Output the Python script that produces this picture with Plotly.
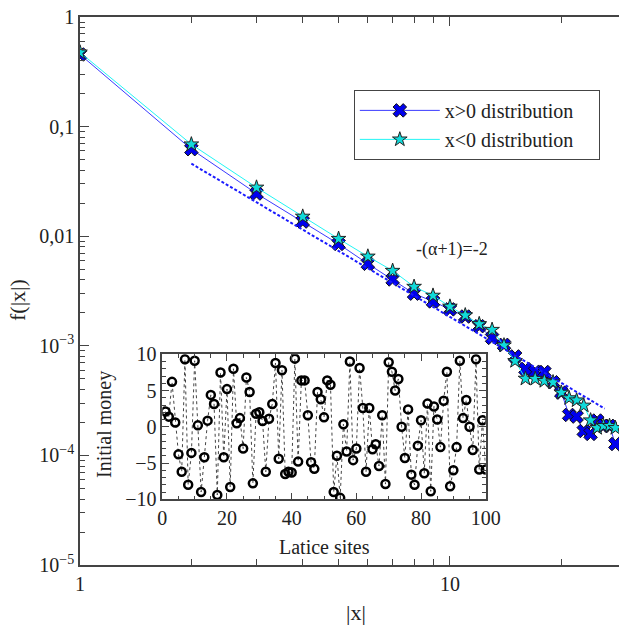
import plotly.graph_objects as go

# |x| values (lattice distance) and the two tail distributions
x_abs = list(range(1, 29))
f_pos = [0.455, 0.0622, 0.0245, 0.0136, 0.0085, 0.0056, 0.00403, 0.00299, 0.00254, 0.00215,
         0.00185, 0.00151, 0.00118, 0.00102, 0.00080, 0.000615, 0.000580, 0.000577, 0.000465,
         0.000374, 0.000234, 0.000226, 0.000167, 0.000157, 0.000208, 0.000186, 0.000186, 0.000127]
f_neg = [0.475, 0.0689, 0.0278, 0.0151, 0.00947, 0.00653, 0.00484, 0.00346, 0.00287, 0.00228,
         0.00190, 0.00158, 0.00140, 0.00101, 0.000727, 0.000502, 0.000500, 0.000478, 0.000465,
         0.000374, 0.000333, 0.000318, 0.000285, 0.000209, 0.000178, 0.000186, 0.000186, 0.000178]

# power-law guide with exponent -(alpha+1) = -2
guide_x = [2, 26.2]
guide_amp = 0.1836
guide_exp = -2

# initial money per lattice site (inset)
sites = list(range(1, 101))
money = [2.1, 1.4, 6.2, 0.6, -3.8, -6.2, 9.3, -8.0, -3.6, 9.1,
         0.2, -9.0, -4.2, 0.85, 4.4, 3.15, -9.4, 7.5, -4.2, 5.2,
         -8.3, 8.0, 0.5, 1.2, -3.0, 6.8, 4.8, -7.8, 1.8, 2.0,
         0.8, -6.2, 1.1, 3.15, 8.8, -4.4, 7.8, -6.5, -6.2, -6.3,
         9.4, -4.8, 6.4, 6.4, 1.6, -4.9, -5.8, 4.8, 3.8, 1.3,
         6.4, 5.8, -9.0, -4.0, -9.8, 0.35, -3.4, 9.0, -4.6, -3.0,
         8.1, 2.6, -6.2, 2.6, -3.1, -2.4, -5.4, 1.6, -7.9, 8.9,
         7.6, 5.0, 6.6, 0.0, -4.3, 2.4, -6.6, -8.0, -2.6, 0.9,
         -6.4, 3.2, -8.9, 2.8, 1.0, -2.8, 3.6, 7.6, -8.2, -6.0,
         -2.8, 9.1, 1.2, 3.7, 0.0, -3.2, 9.3, -5.9, 0.9, -5.9]

SERIF = "Liberation Serif, Times New Roman, serif"
AX = "#444444"
PAD = "\u00a0" * 4  # right padding inside the legend box

fig = go.Figure()

fig.add_trace(go.Scatter(
    x=x_abs, y=f_pos, mode="lines+markers", name="x>0 distribution" + PAD,
    line=dict(color="#3a3aff", width=1),
    marker=dict(symbol="x", size=12, color="#0000ee", line=dict(color="#111111", width=1)),
))
fig.add_trace(go.Scatter(
    x=x_abs, y=f_neg, mode="lines+markers", name="x<0 distribution" + PAD,
    line=dict(color="#22f5f5", width=1),
    marker=dict(symbol="star", size=11, color="#10dada", line=dict(color="#222222", width=1)),
))
fig.add_trace(go.Scatter(
    x=guide_x, y=[guide_amp * v ** guide_exp for v in guide_x], mode="lines",
    line=dict(color="#1a1aff", width=2, dash="3px,2px"), showlegend=False,
))

# inset: initial money along the lattice
fig.add_trace(go.Scatter(
    x=sites, y=money, mode="lines+markers", xaxis="x2", yaxis="y2", showlegend=False,
    line=dict(color="#444444", width=1, dash="dot"),
    marker=dict(symbol="circle-open", size=8, color="#000000", line=dict(width=2.5)),
))

major_y = [1e-5, 1e-4, 1e-3, 1e-2, 1e-1, 1]
major_y_text = ["10<sup>−5</sup>", "10<sup>−4</sup>", "10<sup>−3</sup>", "0,01", "0,1", "1"]
minor_y = [m * 10 ** e for e in range(-5, 0) for m in range(2, 10)]
minor_x = [2, 3, 4, 5, 6, 7, 8, 9, 20]

fig.update_layout(
    width=619, height=626,
    margin=dict(l=80, r=0, t=17, b=61, autoexpand=False),
    paper_bgcolor="white", plot_bgcolor="white",
    font=dict(family=SERIF, size=20, color="#222222"),
    xaxis=dict(
        type="log", range=[0, 1.457], showgrid=False, zeroline=False, automargin=False,
        showline=True, linecolor=AX, linewidth=1.5, mirror="ticks",
        ticks="inside", ticklen=9, tickwidth=1.2, tickcolor=AX,
        tickmode="array", tickvals=[1, 10], ticktext=["1", "10"],
        minor=dict(tickmode="array", tickvals=minor_x, ticks="inside", ticklen=6,
                   tickcolor=AX, tickwidth=1.2, showgrid=False),
        tickfont=dict(size=20),
    ),
    yaxis=dict(
        type="log", range=[-5, 0], showgrid=False, zeroline=False, automargin=False,
        showline=True, linecolor=AX, linewidth=1.5, mirror=False,
        ticks="inside", ticklen=9, tickwidth=1.2, tickcolor=AX,
        tickmode="array", tickvals=major_y, ticktext=major_y_text,
        minor=dict(tickmode="array", tickvals=minor_y, ticks="inside", ticklen=5,
                   tickcolor=AX, tickwidth=1.2, showgrid=False),
        tickfont=dict(size=20),
    ),
    xaxis2=dict(
        domain=[0.1527, 0.7527], anchor="y2", range=[0, 100], automargin=False,
        showgrid=False, zeroline=False, showline=True, linecolor=AX, linewidth=1.5,
        mirror="ticks", ticks="inside", ticklen=7, tickcolor=AX, dtick=20, tick0=0,
        minor=dict(dtick=5, ticks="inside", ticklen=4, tickcolor=AX, showgrid=False),
        tickfont=dict(size=20),
    ),
    yaxis2=dict(
        domain=[0.1199, 0.3845], anchor="x2", range=[-10, 10], automargin=False,
        showgrid=False, zeroline=False, showline=True, linecolor=AX, linewidth=1.5,
        mirror="ticks", ticks="inside", ticklen=7, tickcolor=AX, dtick=5, tick0=0,
        minor=dict(dtick=1, ticks="inside", ticklen=4, tickcolor=AX, showgrid=False),
        tickfont=dict(size=20),
    ),
    legend=dict(
        x=0.508, y=0.867, xanchor="left", yanchor="top",
        bgcolor="white", bordercolor=AX, borderwidth=1,
        font=dict(size=20), itemwidth=80, tracegroupgap=0,
    ),
    showlegend=True,
)

ann = dict(xref="paper", yref="paper", showarrow=False, xanchor="center", yanchor="middle")
fig.add_annotation(text="f(|x|)", x=-0.115, y=0.4836, textangle=-90, font=dict(size=22), **ann)
fig.add_annotation(text="|x|", x=0.512, y=-0.0858, font=dict(size=22), **ann)
fig.add_annotation(text="-(α+1)=-2", x=0.690, y=0.5766, font=dict(size=18), **ann)
fig.add_annotation(text="Initial money", x=0.0464, y=0.2555, textangle=-90, font=dict(size=20), **ann)
fig.add_annotation(text="Latice sites", x=0.4545, y=0.0328, font=dict(size=20), **ann)

fig.write_html("out.html")
